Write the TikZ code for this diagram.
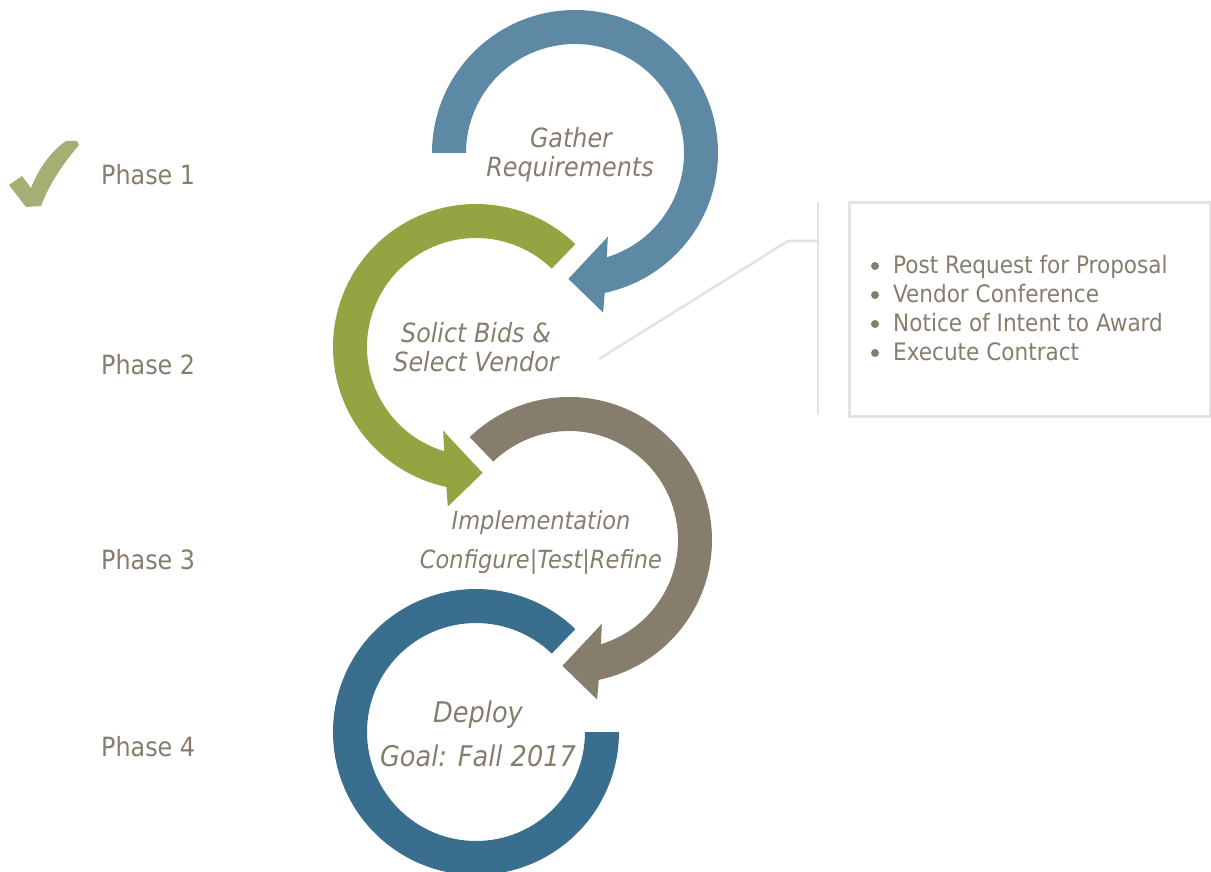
\documentclass[tikz,border=0pt]{standalone}
\usepackage{fontspec}
\setmainfont{DejaVu Sans Condensed}[ItalicFont={DejaVu Sans Condensed Oblique}]
\definecolor{cA}{HTML}{5E89A5}
\definecolor{cB}{HTML}{93A443}
\definecolor{cC}{HTML}{867D6C}
\definecolor{cD}{HTML}{3A6E8F}
\definecolor{txt}{HTML}{867D6C}
\definecolor{chk}{HTML}{A5AF73}
\definecolor{gl}{HTML}{E3E3E3}
\begin{document}
\begin{tikzpicture}[x=1pt,y=1pt,
  phase/.style={anchor=base west, inner sep=0pt, text=txt, font=\fontsize{26.5}{27}\selectfont},
  steptext/.style={anchor=base, inner sep=0pt, text=txt, font=\fontsize{26.5}{27}\selectfont\itshape},
  smalltext/.style={anchor=base, inner sep=0pt, text=txt, font=\fontsize{25}{27}\selectfont\itshape},
  bigtext/.style={anchor=base, inner sep=0pt, text=txt, font=\fontsize{28.5}{30}\selectfont\itshape},
  item/.style={anchor=base west, inner sep=0pt, text=txt, font=\fontsize{24}{24}\selectfont},
  guide/.style={draw=gl, line width=2.6pt},
  bul/.style={circle, fill=txt, inner sep=0pt, minimum size=8pt}]
\useasboundingbox (0,0) rectangle (1211,-872);

% circle 1
\begin{scope}[shift={(575,-153)}]
\fill[cA] (180:143) arc[start angle=180,end angle=-78,radius=143] -- (-80:162) -- (-93:126) -- (-68.6:90) -- (-73:109) arc[start angle=-73,end angle=180,radius=109] -- cycle;
\end{scope}
% circle 2
\begin{scope}[shift={(476,-347)}]
\fill[cB] (46:143) arc[start angle=46,end angle=258,radius=143] -- (260:162) -- (273:126) -- (248.6:90) -- (253:109) arc[start angle=253,end angle=46,radius=109] -- cycle;
\end{scope}
% circle 3
\begin{scope}[shift={(569,-540)}]
\fill[cC] (134:143) arc[start angle=134,end angle=-78,radius=143] -- (-80:162) -- (-93:126) -- (-68.6:90) -- (-73:109) arc[start angle=-73,end angle=134,radius=109] -- cycle;
\end{scope}
% circle 4
\begin{scope}[shift={(476,-732)}]
\fill[cD] (46:143) arc[start angle=46,end angle=360,radius=143] -- (0:109) arc[start angle=360,end angle=46,radius=109] -- cycle;
\end{scope}

% check mark
\fill[chk] (9,-185) -- (22,-176) -- (31,-188) .. controls (38,-170) and (50,-152) .. (66,-141) -- (77,-141) -- (79,-145) .. controls (66,-160) and (50,-182) .. (41,-206) -- (26,-207) -- cycle;

% phase labels
\node[phase] (p1) at (101,-185) {Phase 1};
\node[phase] (p2) at (101,-374) {Phase 2};
\node[phase] (p3) at (101,-569) {Phase 3};
\node[phase] (p4) at (101,-756) {Phase 4};

% step texts
\node[steptext] (g1) at (571,-148) {Gather};
\node[steptext] (g2) at (570,-177) {Requirements};
\node[steptext] (s1) at (476,-342) {Solict Bids \&};
\node[steptext] (s2) at (476,-371) {Select Vendor};
\node[smalltext] (i1) at (541,-529) {Implementation};
\node[smalltext] (i2) at (541,-568) {Configure|Test|Refine};
\node[bigtext] (d1) at (478,-722) {Deploy};
\node[bigtext] (d2) at (478,-766) {Goal: Fall 2017};

% callout
\node[guide, draw, anchor=north west, minimum width=361pt, minimum height=214pt, inner sep=0pt] (box) at (848,-201) {};
\coordinate (vt) at (818,-202);
\coordinate (vb) at (818,-415);
\coordinate (hk) at (818,-241);
\coordinate (hb) at (788,-241);
\coordinate (tip) at (599,-359);
\draw[guide] (vt) -- (vb);
\draw[guide] (hk) -- (hb) -- (tip);

\node[bul] (b1) at (875,-266) {};
\node[bul] (b2) at (875,-295) {};
\node[bul] (b3) at (875,-324) {};
\node[bul] (b4) at (875,-353) {};
\node[item] (t1) at (893,-273) {Post Request for Proposal};
\node[item] (t2) at (893,-302) {Vendor Conference};
\node[item] (t3) at (893,-331) {Notice of Intent to Award};
\node[item] (t4) at (893,-360) {Execute Contract};
\end{tikzpicture}
\end{document}
